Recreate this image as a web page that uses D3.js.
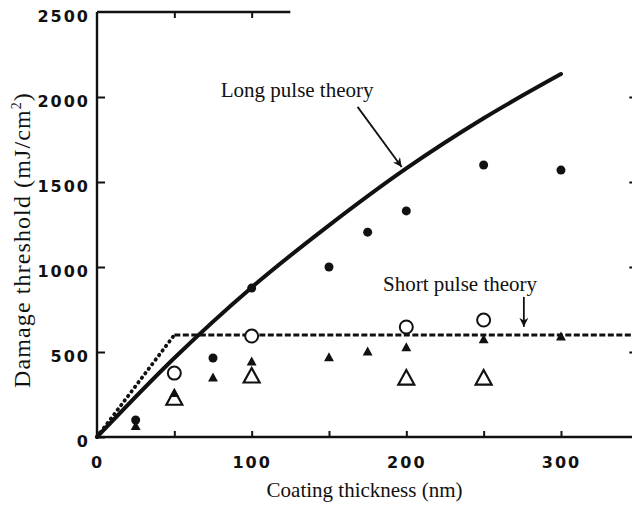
<!DOCTYPE html>
<html>
<head>
<meta charset="utf-8">
<script src="https://cdn.jsdelivr.net/npm/d3@7/dist/d3.min.js"></script>
<style>
  html, body { margin: 0; padding: 0; background: #fff; }
  svg { display: block; }
  .tick-label { font-family: "DejaVu Sans", sans-serif; font-weight: bold; font-size: 16px; letter-spacing: 2px; fill: #111; }
  .serif { font-family: "Liberation Serif", "Times New Roman", serif; fill: #111; }
</style>
</head>
<body>
<svg id="chart" width="632" height="506"></svg>
<script>
// Damage threshold vs. coating thickness
const xTicks = [0, 50, 100, 150, 200, 250, 300];
const xTickLabels = ["0", "", "100", "", "200", "", "300"];
const yTicks = [0, 500, 1000, 1500, 2000, 2500];
const yTickLabels = ["0", "500", "1000", "1500", "2000", "2500"];

// theory curves: [thickness nm, threshold mJ/cm2]
const longPulse = [[0, 0], [50, 465], [100, 880], [150, 1245], [200, 1580], [250, 1875], [300, 2135]];
const shortPulseRise = [[0, 0], [50, 600]];
const shortPulseFlat = [[50, 600], [350, 600]];

// measured points
const filledCircles = [[25, 100], [75, 465], [100, 876], [150, 1000], [175, 1205], [200, 1330], [250, 1600], [300, 1570]];
const openCircles = [[50, 376], [100, 594], [200, 647], [250, 688]];
const filledTriangles = [[25, 62], [50, 255], [75, 347], [100, 441], [150, 465], [175, 500], [200, 524], [250, 572], [300, 588]];
const openTriangles = [[50, 222], [100, 353], [200, 341], [250, 341]];

// annotation arrows: [from, to]
const longArrow = [[168.5, 1942], [197, 1588]];
const shortArrow = [[276, 824], [276, 648]];

const svg = d3.select("#chart");
const x = d3.scaleLinear().domain([0, 350]).range([97, 638.3]);
const y = d3.scaleLinear().domain([0, 2500]).range([437, 12]);

const defs = svg.append("defs");
defs.append("marker")
  .attr("id", "arrowhead")
  .attr("viewBox", "0 0 10 10")
  .attr("refX", 10).attr("refY", 5)
  .attr("markerWidth", 5).attr("markerHeight", 5)
  .attr("markerUnits", "strokeWidth")
  .attr("orient", "auto")
  .append("path").attr("d", "M0,0 L10,5 L0,10 L3,5 Z").attr("fill", "#111");

// axes
const gx = svg.append("g").attr("transform", `translate(0,${y(0)})`)
  .call(d3.axisBottom(x).tickValues(xTicks).tickSize(-6).tickPadding(20)
    .tickFormat((d, i) => xTickLabels[i]));
gx.select(".domain").attr("d", `M${x(0)},0H${x(350)}`);

const gy = svg.append("g").attr("transform", `translate(${x(0)},0)`)
  .call(d3.axisLeft(y).tickValues(yTicks).tickSize(-8).tickPadding(7)
    .tickFormat((d, i) => yTickLabels[i]));
gy.select(".domain").attr("d", `M0,${y(0)}V${y(2500)}`);
gy.selectAll(".tick").filter(d => d === 2500).select("line").remove();

// right axis ticks (axis line itself lies just past the edge)
const gr = svg.append("g").attr("transform", `translate(${x(350)},0)`)
  .call(d3.axisRight(y).tickValues([500, 1000, 1500, 2000]).tickSize(-9).tickFormat(""));
gr.select(".domain").remove();

// top border with ticks
const gt = svg.append("g").attr("transform", `translate(0,${y(2500)})`)
  .call(d3.axisTop(x).tickValues([50, 100]).tickSize(-6).tickFormat(""));
gt.select(".domain").attr("d", `M${x(0)},0H${x(125)}`);

[gx, gy, gr, gt].forEach(g => {
  g.selectAll(".domain").attr("stroke", "#111").attr("stroke-width", 2.4).attr("fill", "none");
  g.selectAll(".tick line").attr("stroke", "#111").attr("stroke-width", 2);
  g.selectAll(".tick text").attr("class", "tick-label").attr("fill", "#111");
});
gy.selectAll(".tick text").attr("transform", "translate(0,4)");

// axis titles
svg.append("text").attr("class", "serif")
  .attr("x", x(173)).attr("y", 497)
  .attr("text-anchor", "middle").attr("font-size", 21)
  .text("Coating thickness (nm)");

const yt = svg.append("text").attr("class", "serif")
  .attr("transform", `translate(30,240) rotate(-90)`)
  .attr("text-anchor", "middle").attr("font-size", 24)
  .attr("letter-spacing", 1.1);
yt.append("tspan").text("Damage threshold (mJ/cm");
yt.append("tspan").attr("font-size", 14).attr("dy", -9).text("2");
yt.append("tspan").attr("dy", 9).text(")");

// theory curves
const line = d3.line().x(d => x(d[0])).y(d => y(d[1]));
svg.append("path").datum(longPulse)
  .attr("d", line.curve(d3.curveMonotoneX))
  .attr("fill", "none").attr("stroke", "#111").attr("stroke-width", 4).attr("stroke-linecap", "round");

const straight = d3.line().x(d => x(d[0])).y(d => y(d[1]));
svg.append("path").datum(shortPulseRise)
  .attr("d", straight)
  .attr("fill", "none").attr("stroke", "#111").attr("stroke-width", 3.8)
  .attr("stroke-dasharray", "0.5,5.2").attr("stroke-linecap", "round");
svg.append("path").datum(shortPulseFlat)
  .attr("d", straight)
  .attr("fill", "none").attr("stroke", "#111").attr("stroke-width", 2.8)
  .attr("stroke-dasharray", "6,2.5");

// markers
svg.append("g").selectAll("circle").data(filledCircles).join("circle")
  .attr("cx", d => x(d[0])).attr("cy", d => y(d[1])).attr("r", 4.5).attr("fill", "#111");
svg.append("g").selectAll("circle").data(openCircles).join("circle")
  .attr("cx", d => x(d[0])).attr("cy", d => y(d[1])).attr("r", 6.5)
  .attr("fill", "#fff").attr("stroke", "#111").attr("stroke-width", 2);

const tri = (s) => `M0,${-s * 0.62}L${s * 0.55},${s * 0.38}L${-s * 0.55},${s * 0.38}Z`;
svg.append("g").selectAll("path").data(openTriangles).join("path")
  .attr("transform", d => `translate(${x(d[0])},${y(d[1])})`)
  .attr("d", tri(14.5)).attr("fill", "#fff").attr("stroke", "#111").attr("stroke-width", 2.2);
svg.append("g").selectAll("path").data(filledTriangles).join("path")
  .attr("transform", d => `translate(${x(d[0])},${y(d[1])})`)
  .attr("d", tri(9)).attr("fill", "#111");

// annotations
svg.append("text").attr("class", "serif")
  .attr("x", x(80)).attr("y", y(2000)).attr("font-size", 21)
  .text("Long pulse theory");
svg.append("text").attr("class", "serif")
  .attr("x", x(185)).attr("y", y(860)).attr("font-size", 21)
  .text("Short pulse theory");

[longArrow, shortArrow].forEach(a => {
  svg.append("path").datum(a).attr("d", straight)
    .attr("stroke", "#111").attr("stroke-width", 1.8).attr("fill", "none")
    .attr("marker-end", "url(#arrowhead)");
});
</script>
</body>
</html>
